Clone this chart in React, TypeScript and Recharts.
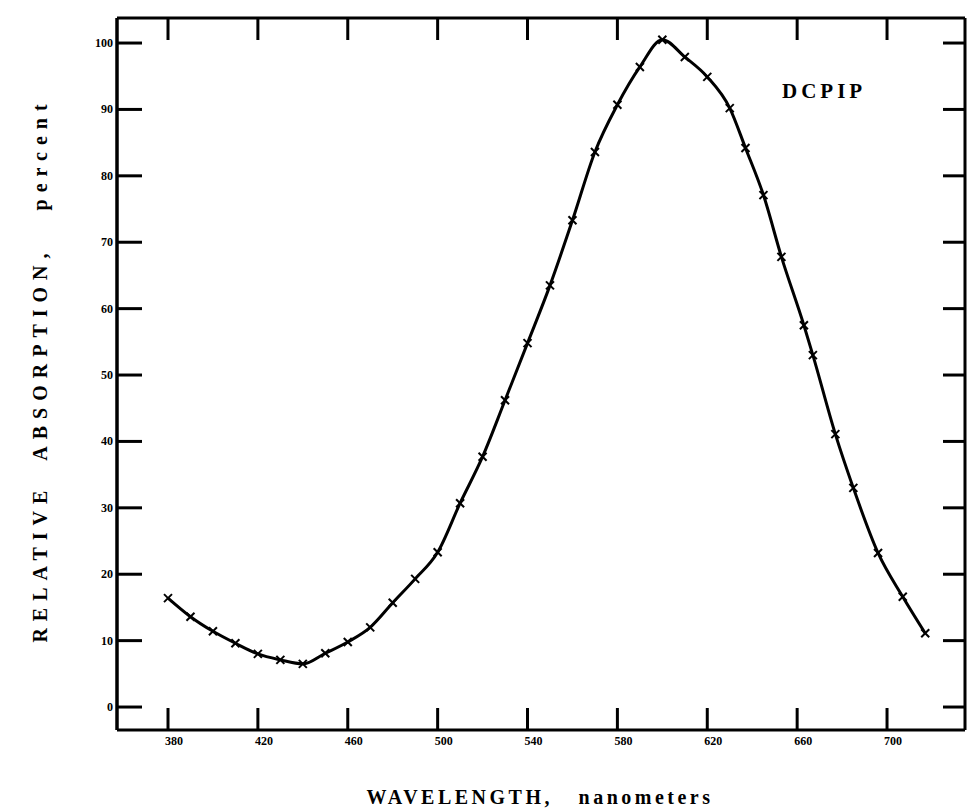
import { LineChart, Line, XAxis, YAxis } from "recharts";

const wavelength = [
  380, 390, 400, 410, 420, 430, 440, 450, 460, 470, 480, 490, 500, 510, 520, 530, 540, 550,
  560, 570, 580, 590, 600, 610, 620, 630, 637, 645, 653, 663, 667, 677, 685, 696, 707, 717,
];
const absorption = [
  16.4, 13.6, 11.4, 9.6, 8.0, 7.1, 6.5, 8.1, 9.8, 12.0, 15.7, 19.3, 23.3, 30.7, 37.7, 46.2, 54.8, 63.5,
  73.3, 83.6, 90.7, 96.4, 100.5, 97.9, 94.9, 90.2, 84.2, 77.1, 67.8, 57.5, 53.0, 41.1, 33.0, 23.2, 16.6, 11.1,
];
const xTicks = [380, 420, 460, 500, 540, 580, 620, 660, 700];
const yTicks = [0, 10, 20, 30, 40, 50, 60, 70, 80, 90, 100];

const data = wavelength.map((nm, i) => ({ nm, value: absorption[i] }));

const FONT = '"Liberation Serif", "DejaVu Serif", serif';
const X_DOMAIN: [number, number] = [357.3, 734.7];
const Y_DOMAIN: [number, number] = [-3.46, 103.77];

const LeftTick = ({ x, y, payload }: any) => (
  <g>
    <line x1={x} y1={y} x2={x + 25} y2={y} stroke="#000" strokeWidth={3} />
    <text x={x - 4} y={y} textAnchor="end" dominantBaseline="central" fontFamily={FONT} fontWeight="bold" fontSize={12} fill="#000">
      {payload.value}
    </text>
  </g>
);

const RightTick = ({ x, y }: any) => <line x1={x} y1={y} x2={x - 22} y2={y} stroke="#000" strokeWidth={3} />;

const BottomTick = ({ x, y, payload }: any) => (
  <g>
    <line x1={x} y1={y} x2={x} y2={y - 22} stroke="#000" strokeWidth={3} />
    <text x={x + 6} y={y + 15} textAnchor="middle" fontFamily={FONT} fontWeight="bold" fontSize={12} fill="#000">
      {payload.value}
    </text>
  </g>
);

const TopTick = ({ x, y }: any) => <line x1={x} y1={y} x2={x} y2={y + 22} stroke="#000" strokeWidth={3} />;

const Mark = ({ cx, cy }: any) => (
  <g>
    <line x1={cx - 4} y1={cy - 4} x2={cx + 4} y2={cy + 4} stroke="#000" strokeWidth={2} />
    <line x1={cx - 4} y1={cy + 4} x2={cx + 4} y2={cy - 4} stroke="#000" strokeWidth={2} />
  </g>
);

export default function App() {
  return (
    <div style={{ position: "absolute", left: 0, top: 0, width: 972, height: 808, background: "#fff" }}>
      <LineChart width={972} height={808} data={data} margin={{ top: 17, right: 6, bottom: 48, left: 57 }}>
        <XAxis
          xAxisId="bottom"
          dataKey="nm"
          type="number"
          domain={X_DOMAIN}
          ticks={xTicks}
          allowDataOverflow
          height={30}
          tickSize={0}
          tickMargin={0}
          tickLine={false}
          axisLine={{ stroke: "#000", strokeWidth: 3 }}
          tick={<BottomTick />}
        />
        <XAxis
          xAxisId="top"
          orientation="top"
          dataKey="nm"
          type="number"
          domain={X_DOMAIN}
          ticks={xTicks}
          allowDataOverflow
          height={1}
          tickSize={0}
          tickMargin={0}
          tickLine={false}
          axisLine={{ stroke: "#000", strokeWidth: 3 }}
          tick={<TopTick />}
        />
        <YAxis
          yAxisId="left"
          type="number"
          domain={Y_DOMAIN}
          ticks={yTicks}
          allowDataOverflow
          width={60}
          tickSize={0}
          tickMargin={0}
          tickLine={false}
          axisLine={{ stroke: "#000", strokeWidth: 3.5 }}
          tick={<LeftTick />}
        />
        <YAxis
          yAxisId="right"
          orientation="right"
          type="number"
          domain={Y_DOMAIN}
          ticks={yTicks}
          allowDataOverflow
          width={1}
          tickSize={0}
          tickMargin={0}
          tickLine={false}
          axisLine={{ stroke: "#000", strokeWidth: 3 }}
          tick={<RightTick />}
        />
        <Line
          xAxisId="bottom"
          yAxisId="left"
          type="monotone"
          dataKey="value"
          stroke="#000"
          strokeWidth={3}
          dot={<Mark />}
          isAnimationActive={false}
        />
      </LineChart>
      <div
        style={{
          position: "absolute",
          left: 40,
          top: 370,
          transform: "translate(-50%, -50%) rotate(-90deg)",
          whiteSpace: "nowrap",
          fontFamily: FONT,
          fontWeight: "bold",
          fontSize: 20,
          letterSpacing: 7,
        }}
      >
        RELATIVE&nbsp; ABSORPTION,&nbsp;&nbsp; percent
      </div>
      <div
        style={{
          position: "absolute",
          left: 540,
          top: 797,
          transform: "translate(-50%, -50%)",
          whiteSpace: "nowrap",
          fontFamily: FONT,
          fontWeight: "bold",
          fontSize: 20,
          letterSpacing: 3.5,
        }}
      >
        WAVELENGTH,&nbsp;&nbsp; nanometers
      </div>
      <div
        style={{
          position: "absolute",
          left: 782,
          top: 79,
          whiteSpace: "nowrap",
          fontFamily: FONT,
          fontWeight: "bold",
          fontSize: 21,
          letterSpacing: 4,
        }}
      >
        DCPIP
      </div>
    </div>
  );
}
